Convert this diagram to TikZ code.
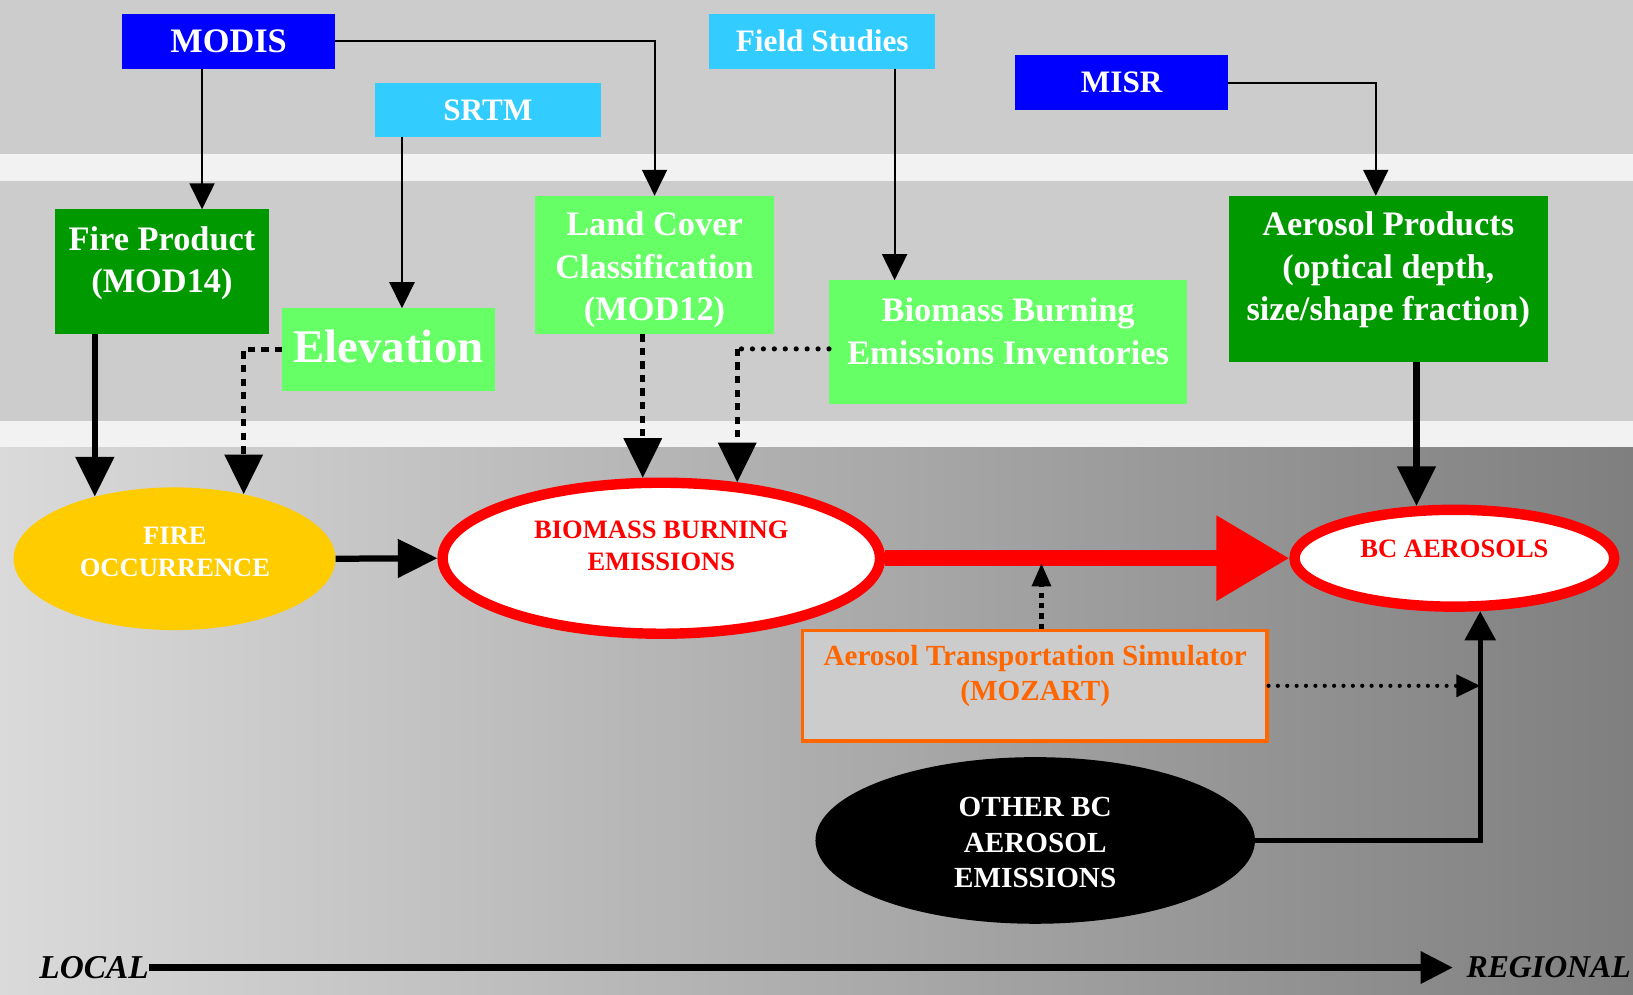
\documentclass[tikz,border=0pt]{standalone}
\usepackage{fontspec}
\setmainfont{Liberation Serif}
\usetikzlibrary{arrows.meta,shapes.geometric,calc}
\definecolor{bblue}{HTML}{0000FF}
\definecolor{cyanb}{HTML}{33CCFF}
\definecolor{dgreen}{HTML}{009900}
\definecolor{lgreen}{HTML}{66FF66}
\definecolor{yel}{HTML}{FFCC00}
\definecolor{rred}{HTML}{FF0000}
\definecolor{orng}{HTML}{FF6600}
\definecolor{bandgray}{HTML}{CCCCCC}
\definecolor{stripw}{HTML}{F2F2F2}
\definecolor{gradL}{HTML}{DADADA}
\definecolor{gradR}{HTML}{7F7F7F}
\begin{document}
\begin{tikzpicture}[x=1pt,y=-1pt,
  box/.style={rectangle, inner sep=0pt, outer sep=0pt},
  bigfont/.style={font=\bfseries\fontsize{33}{40.5}\selectfont},
  midfont/.style={font=\bfseries\fontsize{30}{36}\selectfont},
  txt/.style={text=white, align=center, inner sep=0pt, bigfont},
  thinarr/.style={line width=2pt, -{Triangle[length=25pt,width=24pt]}},
  bigarr/.style={line width=6pt, -{Triangle[length=38pt,width=36pt]}},
  dasharr/.style={line width=5pt, dash pattern=on 7pt off 6pt, -{Triangle[length=38pt,width=36pt]}},
  dotline/.style={line width=5pt, line cap=round, dash pattern=on 0pt off 10.5pt},
  redarr/.style={line width=15pt, draw=rred, -{Triangle[length=70pt,width=78pt]}},
  mzuparr/.style={line width=4pt, dash pattern=on 5pt off 5pt, -{Triangle[length=22pt,width=18pt]}},
  mzrarr/.style={line width=4pt, line cap=round, dash pattern=on 0pt off 9pt, -{Triangle[length=23pt,width=21pt]}},
  otharr/.style={line width=5pt, -{Triangle[length=28pt,width=29pt]}},
  axisarr/.style={line width=6pt, -{Triangle[length=31pt,width=30pt]}},
]
\useasboundingbox (0,0) rectangle (1568,955);
% background bands
\fill[bandgray] (0,0) rectangle (1568,148);
\fill[stripw] (0,148) rectangle (1568,174);
\fill[bandgray] (0,174) rectangle (1568,404);
\fill[stripw] (0,404) rectangle (1568,430);
\shade[left color=gradL, right color=gradR] (0,430) rectangle (1568,955);

% source boxes
\node[box, fill=bblue, minimum width=205pt, minimum height=53pt, text=white, bigfont] (modis) at (219.5,39.5) {MODIS};
\node[box, fill=cyanb, minimum width=217pt, minimum height=52pt, text=white, midfont] (srtm) at (468.5,106) {SRTM};
\node[box, fill=cyanb, minimum width=217pt, minimum height=53pt, text=white, midfont] (field) at (789.5,39.5) {Field Studies};
\node[box, fill=bblue, minimum width=204pt, minimum height=53pt, text=white, midfont] (misr) at (1077,79.5) {MISR};

% product boxes
\node[box, fill=dgreen, minimum width=205pt, minimum height=120pt] (fp) at (155.5,261) {};
\node[txt] at (155.5,253) {Fire Product\\(MOD14)};
\node[box, fill=lgreen, minimum width=204pt, minimum height=79pt] (elev) at (373,335.5) {};
\node[txt, font=\bfseries\fontsize{45}{50}\selectfont] at (373,332.5) {Elevation};
\node[box, fill=lgreen, minimum width=229pt, minimum height=133pt] (lc) at (628.5,254.5) {};
\node[txt] at (628.5,259) {Land Cover\\Classification\\(MOD12)};
\node[box, fill=lgreen, minimum width=344pt, minimum height=119pt] (bi) at (968,328.5) {};
\node[txt] at (968,318) {Biomass Burning\\Emissions Inventories};
\node[box, fill=dgreen, minimum width=306pt, minimum height=160pt] (ap) at (1333,268) {};
\node[txt] at (1333,259) {Aerosol Products\\(optical depth,\\size/shape fraction)};

% lower nodes
\node[ellipse, fill=yel, minimum width=309pt, minimum height=137pt, inner sep=0pt] (fo) at (167.5,536.5) {};
\node[txt, font=\bfseries\fontsize{25.5}{31}\selectfont] at (168,530) {FIRE\\OCCURRENCE};
\node[ellipse, draw=rred, line width=10pt, fill=white, minimum width=420pt, minimum height=145pt, inner sep=0pt] (bbe) at (635,536) {};
\node[txt, text=rred, font=\bfseries\fontsize{25.5}{30}\selectfont] at (635,524) {BIOMASS BURNING\\EMISSIONS};
\node[ellipse, draw=rred, line width=10pt, fill=white, minimum width=307pt, minimum height=93pt, inner sep=0pt] (bc) at (1396.5,536) {};
\node[txt, text=rred, font=\bfseries\fontsize{25.5}{30}\selectfont] at (1396.5,527) {BC AEROSOLS};
\node[box, draw=orng, line width=3pt, fill=bandgray, minimum width=446pt, minimum height=106pt, outer sep=1.5pt] (mz) at (993.5,658.5) {};
\node[txt, text=orng, font=\bfseries\fontsize{28}{34}\selectfont] at (994,649) {Aerosol Transportation Simulator\\(MOZART)};
\node[ellipse, fill=black, minimum width=422pt, minimum height=160pt, inner sep=0pt] (oth) at (994,807) {};
\node[txt, font=\bfseries\fontsize{28}{34}\selectfont] at (994,809) {OTHER BC\\AEROSOL\\EMISSIONS};

% scale axis
\node[inner sep=0pt, anchor=east, font=\bfseries\itshape\fontsize{32}{38}\selectfont] (loc) at (143,929) {LOCAL};
\node[inner sep=0pt, anchor=west, font=\bfseries\itshape\fontsize{30.5}{36}\selectfont] (reg) at (1408,929) {REGIONAL};
\draw[axisarr, shorten >=13pt] (loc.east) -- (reg.west);

% thin connectors
\draw[thinarr] ([xshift=-25.5pt]modis.south) -- ([xshift=38.5pt]fp.north);
\draw[thinarr] (modis.east) -| (lc.north);
\draw[thinarr] ([xshift=-82.5pt]srtm.south) -- ([xshift=13pt]elev.north);
\draw[thinarr] ([xshift=69.5pt]field.south) -- ([xshift=-109pt]bi.north);
\draw[thinarr] (misr.east) -| ([xshift=-12pt]ap.north);

% thick connectors
\draw[bigarr] (fo.142 |- fp.south) -- (fo.142);
\draw[dasharr] (elev.west) -| (fo.43.5);
\draw[dasharr] (bbe.103.8 |- lc.south) -- (bbe.103.8);
\path ([yshift=-6.5pt]bi.west) coordinate (biw);
\coordinate (bic) at (biw -| bbe.45.9);
\draw[dotline] (biw) -- (bic);
\draw[dasharr] (bic) -- (bbe.45.9);
\draw[bigarr] (bc.126.9 |- ap.south) -- (bc.126.9);
\draw[bigarr] (fo.east) -- (bbe.west);
\draw[redarr] (bbe.east) -- (bc.west);

% MOZART and other emissions
\path ([xshift=6.5pt]mz.north) coordinate (mzn);
\coordinate (mzt) at (mzn |- bbe.east);
\draw[mzuparr, shorten >=5pt] (mzn) -- (mzt);
\draw[otharr] (oth.east) -| (bc.296.6);
\draw[mzrarr] (mz.east) -- (mz.east -| bc.296.6);
\end{tikzpicture}
\end{document}
